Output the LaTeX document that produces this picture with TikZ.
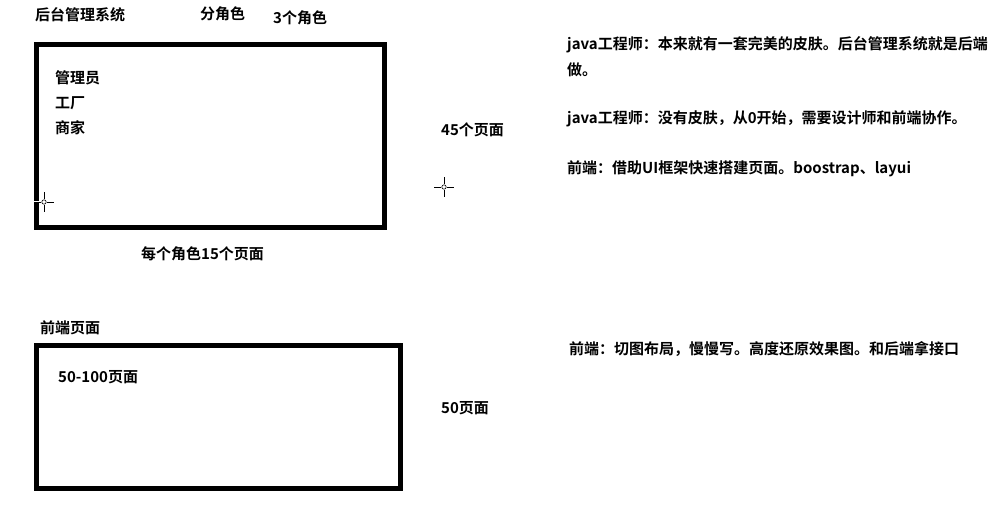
\documentclass[tikz,border=0pt]{standalone}
\usepackage{fontspec}
\setmainfont{Noto Sans CJK SC}[BoldFont={Noto Sans CJK SC Bold}]
\usepackage{xcolor}
\usetikzlibrary{calc,positioning}

\begin{document}
\begin{tikzpicture}[x=1pt, y=1pt]
\tikzstyle{lbl}=[anchor=west, inner sep = 0 pt, font=\fontsize{15pt}{17pt}\selectfont\bfseries]
\tikzstyle{box}=[line width = 5pt]
\tikzstyle{cur}=[line width = 1pt]

\useasboundingbox (0,0) rectangle (995,-504);

% back end box
\draw[box] (36.5,-44.5) rectangle (384.5,-227.5);
\node[lbl] (sys) at (35,-15) {后台管理系统};
\node[lbl] (split) at (200,-14) {分角色};
\node[lbl] (roles) at (273,-18) {3个角色};
\node[lbl] (adm) at (55,-78) {管理员};
\node[lbl, below = 25pt of adm.west, anchor = west] (fac) {工厂};
\node[lbl, below = 25pt of fac.west, anchor = west] (shop) {商家};
\node[lbl] (p45) at (441,-130) {45个页面};
\node[lbl] (p15) at (141,-254) {每个角色15个页面};

% notes
\node[lbl] (n1) at (567,-45) {java工程师：本来就有一套完美的皮肤。后台管理系统就是后端};
\node[lbl, below = 25pt of n1.west, anchor = west] (n1b) {做。};
\node[lbl] (n2) at (567,-119) {java工程师：没有皮肤，从0开始，需要设计师和前端协作。};
\node[lbl, below = 50pt of n2.west, anchor = west] (n3) {前端：借助UI框架快速搭建页面。boostrap、layui};

% front end box
\draw[box] (36.5,-345.5) rectangle (400.5,-488.5);
\node[lbl] (fe) at (40,-328) {前端页面};
\node[lbl] (p100) at (58,-377) {50-100页面};
\node[lbl] (p50) at (441,-408) {50页面};
\node[lbl] (n4) at (569,-349) {前端：切图布局，慢慢写。高度还原效果图。和后端拿接口};

% cursors
\draw[white, line width = 1.5pt] (34,-202) -- (39,-202);
\foreach \cx/\cy in {44/202, 444/187}{
  \draw[cur] (\cx-10,-\cy) -- (\cx-3,-\cy) (\cx+3,-\cy) -- (\cx+10,-\cy)
             (\cx,-\cy+10) -- (\cx,-\cy+3) (\cx,-\cy-3) -- (\cx,-\cy-10);
  \draw[line width = 0.6pt] (\cx,-\cy) circle (2.2);
}
\end{tikzpicture}
\end{document}
